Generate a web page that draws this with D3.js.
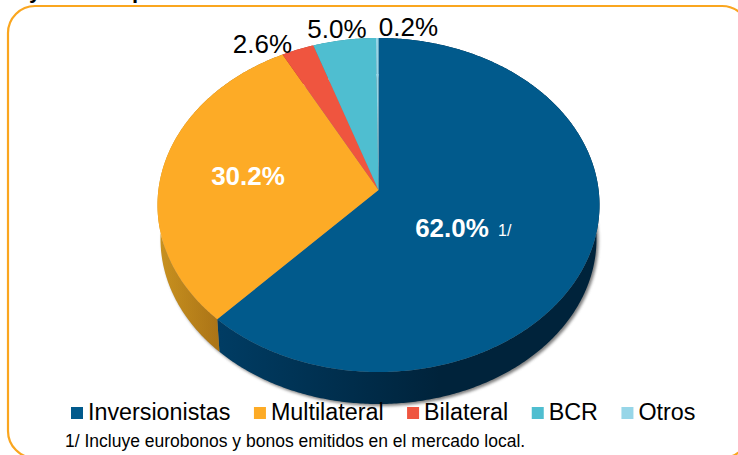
<!DOCTYPE html>
<html>
<head>
<meta charset="utf-8">
<script src="https://d3js.org/d3.v7.min.js"></script>
<style>
  html, body { margin: 0; padding: 0; background: #fff; overflow: hidden; }
  svg { display: block; }
  text { font-family: "Liberation Sans", Arial, sans-serif; }
</style>
</head>
<body>
<div class="chart"></div>
<script>
// data
const categories = ["Inversionistas", "Multilateral", "Bilateral", "BCR", "Otros"];
const shares = [62.0, 30.2, 2.6, 5.0, 0.2];
const shareLabels = ["62.0%", "30.2%", "2.6%", "5.0%", "0.2%"];
const footnote = "1/ Incluye eurobonos y bonos emitidos en el mercado local.";
// only the descenders of the cut off title are left in the picture
const titleScraps = ["y", "p"];

const colors = ["#015a8c", "#fdab26", "#ef553f", "#4fbed0", "#97d6e8"];
const wallColors = [["#003c63", "#00233b"], ["#c8911f", "#a97216"], ["#a83a2b", "#a83a2b"], ["#37858f", "#37858f"], ["#6a96a2", "#6a96a2"]];

// label spots, same order as the categories
const labelSpots = [
  {x: 452, y: 237, size: 26, weight: "bold", fill: "#fff"},
  {x: 248, y: 185, size: 26, weight: "bold", fill: "#fff"},
  {x: 262.5, y: 53, size: 26, weight: "normal", fill: "#000"},
  {x: 337, y: 38, size: 26, weight: "normal", fill: "#000"},
  {x: 408.5, y: 36, size: 26, weight: "normal", fill: "#000"}
];
const scrapX = [29, 132];

const width = 738;
const height = 455;

var svg = d3.select(".chart")
    .append("svg")
    .attr("width", width)
    .attr("height", height);

var defs = svg.append("defs");

defs.append("filter")
    .attr("id", "soft")
    .attr("x", "-10%").attr("y", "-10%")
    .attr("width", "120%").attr("height", "120%")
    .append("feGaussianBlur")
    .attr("stdDeviation", 1.6);

// gradients for the side of the pie
wallColors.forEach((c, i) => {
    var g = defs.append("linearGradient")
        .attr("id", "wall" + i)
        .attr("gradientUnits", "userSpaceOnUse")
        .attr("x1", i == 1 ? 160 : 220).attr("x2", i == 1 ? 222 : 440)
        .attr("y1", 0).attr("y2", 0);
    g.append("stop").attr("offset", 0).attr("stop-color", c[0]);
    g.append("stop").attr("offset", 1).attr("stop-color", c[1]);
});

// top face and bottom rim of the pie
const topX = d3.scaleLinear().domain([-1, 1]).range([157.5, 599.5]);
const topY = d3.scaleLinear().domain([-1, 1]).range([38, 372]);
const botX = d3.scaleLinear().domain([-1, 1]).range([160.5, 596.5]);
const botY = d3.scaleLinear().domain([-1, 1]).range([74, 404]);

// the disc is tilted, so the centre sits above the middle of the ellipse
const tilt = 0.09;
function project(angle, r) {
    var u = r * Math.sin(angle);
    var v = -r * Math.cos(angle);
    var k = 1 - tilt * v;
    return [u * Math.sqrt(1 - tilt * tilt) / k, (v - tilt) / k];
}

function rim(a0, a1) {
    var n = Math.max(2, Math.ceil((a1 - a0) / 0.01));
    return d3.range(n + 1).map(i => project(a0 + (a1 - a0) * i / n, 1));
}

const line = d3.line();
const toTop = p => [topX(p[0]), topY(p[1])];
const toBot = p => [botX(p[0]), botY(p[1])];

var pie = d3.pie().sort(null).value(d => d);
var slices = pie(shares);

svg.append("g")
    .selectAll("text")
    .data(titleScraps)
    .join("text")
    .attr("x", (d, i) => scrapX[i])
    .attr("y", -2)
    .attr("font-size", 22)
    .attr("font-weight", "bold")
    .attr("fill", "#000")
    .text(d => d);

// border of the panel, runs off the window on the right and bottom
svg.append("rect")
    .attr("x", 8)
    .attr("y", 6)
    .attr("width", 741)
    .attr("height", 452)
    .attr("rx", 27)
    .attr("fill", "#fff")
    .attr("stroke", "#faa61f")
    .attr("stroke-width", 2.2);

// soft shadow under the rim
svg.append("path")
    .attr("d", line(rim(0, 2 * Math.PI).map(toBot)) + "Z")
    .attr("transform", "translate(2,2)")
    .attr("fill", "#555")
    .attr("opacity", 0.75)
    .attr("filter", "url(#soft)");

svg.append("g")
    .selectAll("path")
    .data(slices)
    .join("path")
    .attr("d", d => {
        var pts = rim(d.startAngle, d.endAngle);
        return line(pts.map(toTop).concat(pts.slice().reverse().map(toBot))) + "Z";
    })
    .attr("fill", (d, i) => "url(#wall" + i + ")");

svg.append("g")
    .selectAll("path")
    .data(slices)
    .join("path")
    .attr("d", d => line([toTop(project(0, 0))].concat(rim(d.startAngle, d.endAngle).map(toTop))) + "Z")
    .attr("fill", (d, i) => colors[i]);

svg.append("g")
    .selectAll("text")
    .data(shareLabels)
    .join("text")
    .attr("x", (d, i) => labelSpots[i].x)
    .attr("y", (d, i) => labelSpots[i].y)
    .attr("text-anchor", "middle")
    .attr("font-size", (d, i) => labelSpots[i].size)
    .attr("font-weight", (d, i) => labelSpots[i].weight)
    .attr("fill", (d, i) => labelSpots[i].fill)
    .text(d => d);

svg.append("text")
    .attr("x", 498)
    .attr("y", 236)
    .attr("font-size", 16)
    .attr("fill", "#fff")
    .text("1/");

// legend, laid out from the text widths
var legendX = 71;
categories.forEach((c, i) => {
    svg.append("rect")
        .attr("x", legendX)
        .attr("y", 407)
        .attr("width", 12)
        .attr("height", 12)
        .attr("fill", colors[i]);
    var t = svg.append("text")
        .attr("x", legendX + 17)
        .attr("y", 420)
        .attr("font-size", 23.3)
        .attr("fill", "#000")
        .text(c);
    legendX += 17 + t.node().getComputedTextLength() + 23.5;
});

svg.append("text")
    .attr("x", 65)
    .attr("y", 447)
    .attr("font-size", 17.5)
    .attr("fill", "#000")
    .text(footnote);
</script>
</body>
</html>
